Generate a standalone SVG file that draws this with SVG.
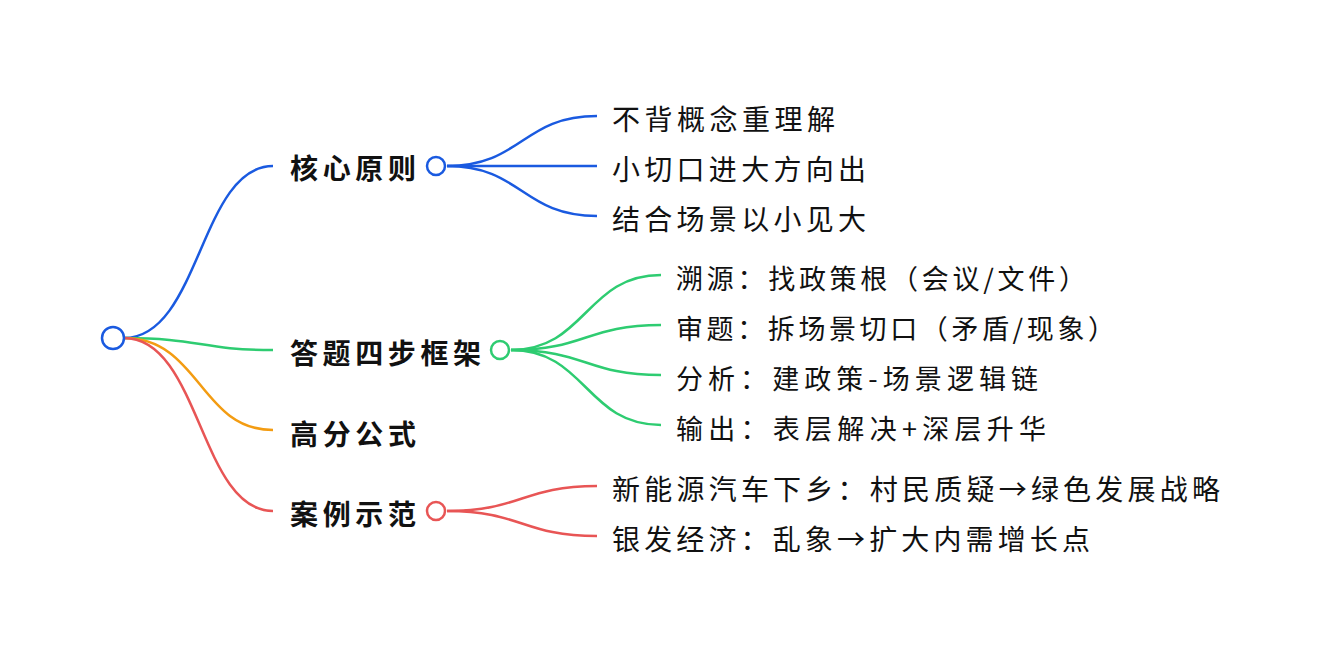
<svg xmlns="http://www.w3.org/2000/svg" width="1318" height="652" viewBox="0 0 1318 652">
<style>
text{font-family:"Noto Sans CJK SC","Noto Sans",sans-serif;fill:#111;dominant-baseline:central}
.b{font-weight:bold;font-size:28px}
.l{font-size:28px}
.m{font-size:27px}
path{fill:none;stroke-width:2.5}
circle{fill:#fff;stroke-width:2.5}
</style>
<rect width="1318" height="652" fill="#fff"/>
<g id="connectors">
<path stroke="#1a5ae0" d="M124,338 C200,338 200,166 273,166"/>
<path stroke="#2ecc71" d="M124,338 C200,338 200,350 273,350"/>
<path stroke="#f39c12" d="M124,338 C200,338 200,430 273,430"/>
<path stroke="#e85555" d="M124,338 C200,338 200,511 273,511"/>
<path stroke="#1a5ae0" d="M447,166 C522,166 522,116 597,116"/>
<path stroke="#1a5ae0" d="M447,166 L597,166"/>
<path stroke="#1a5ae0" d="M447,166 C522,166 522,216 597,216"/>
<path stroke="#2ecc71" d="M511,350 C586,350 586,275 661,275"/>
<path stroke="#2ecc71" d="M511,350 C586,350 586,325 661,325"/>
<path stroke="#2ecc71" d="M511,350 C586,350 586,375 661,375"/>
<path stroke="#2ecc71" d="M511,350 C586,350 586,425 661,425"/>
<path stroke="#e85555" d="M447,511 C522,511 522,486 597,486"/>
<path stroke="#e85555" d="M447,511 C522,511 522,536 597,536"/>
</g>
<g id="root"><circle cx="113" cy="338" r="11" stroke="#1a5ae0"/></g>
<g id="n1"><text class="b" x="290" y="167" textLength="126" lengthAdjust="spacing">核心原则</text><circle cx="436" cy="166" r="9" stroke="#1a5ae0"/></g>
<g id="n2"><text class="b" x="290" y="352" textLength="191" lengthAdjust="spacing">答题四步框架</text><circle cx="500" cy="350" r="9" stroke="#2ecc71"/></g>
<g id="n3"><text class="b" x="290" y="433" textLength="126" lengthAdjust="spacing">高分公式</text></g>
<g id="n4"><text class="b" x="290" y="513" textLength="126" lengthAdjust="spacing">案例示范</text><circle cx="436" cy="511" r="9" stroke="#e85555"/></g>
<g id="l1"><text class="l" x="612" y="118" textLength="223" lengthAdjust="spacing">不背概念重理解</text></g>
<g id="l2"><text class="l" x="612" y="168" textLength="254" lengthAdjust="spacing">小切口进大方向出</text></g>
<g id="l3"><text class="l" x="612" y="218" textLength="254" lengthAdjust="spacing">结合场景以小见大</text></g>
<g id="l4"><text class="m" x="676" y="277" textLength="410" lengthAdjust="spacing">溯源：找政策根（会议/文件）</text></g>
<g id="l5"><text class="m" x="676" y="327" textLength="439" lengthAdjust="spacing">审题：拆场景切口（矛盾/现象）</text></g>
<g id="l6"><text class="m" x="676" y="377" textLength="362" lengthAdjust="spacing">分析：建政策-场景逻辑链</text></g>
<g id="l7"><text class="m" x="676" y="427" textLength="370" lengthAdjust="spacing">输出：表层解决+深层升华</text></g>
<g id="l8"><text class="l" x="612" y="488" textLength="608" lengthAdjust="spacing">新能源汽车下乡：村民质疑→绿色发展战略</text></g>
<g id="l9"><text class="l" x="612" y="538" textLength="478" lengthAdjust="spacing">银发经济：乱象→扩大内需增长点</text></g>
</svg>
